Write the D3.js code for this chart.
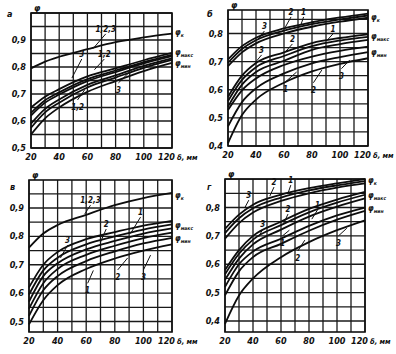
<!DOCTYPE html>
<html>
<head>
<meta charset="utf-8">
<script src="https://cdn.jsdelivr.net/npm/d3@7"></script>
<style>
  body { margin: 0; background: #fff; }
  text { font-family: "DejaVu Sans Condensed", "Liberation Sans Narrow", sans-serif; font-style: italic; font-weight: bold; fill: #111; }
</style>
</head>
<body>
<div id="chart"></div>
<script>
// thickness δ, mm
const thickness = [20, 30, 40, 60, 80, 100, 120];
const xTicks = [20, 40, 60, 80, 100, 120];

// panel а
const aTicks = [0.5, 0.6, 0.7, 0.8, 0.9];
const aPhiK = [[0.795, 0.82, 0.838, 0.866, 0.892, 0.91, 0.924]];
const aMax = [
    [0.650, 0.690, 0.718, 0.765, 0.795, 0.825, 0.852],
    [0.630, 0.677, 0.706, 0.755, 0.787, 0.818, 0.845],
    [0.620, 0.668, 0.698, 0.748, 0.781, 0.813, 0.840]
];
const aMin = [
    [0.590, 0.645, 0.680, 0.734, 0.769, 0.804, 0.832],
    [0.575, 0.632, 0.668, 0.724, 0.761, 0.797, 0.826],
    [0.550, 0.610, 0.650, 0.708, 0.748, 0.785, 0.815]
];

// panel б
const bTicks = [0.4, 0.5, 0.6, 0.7, 0.8];
const bPhiK = [
    [0.708, 0.755, 0.785, 0.818, 0.840, 0.857, 0.871],
    [0.696, 0.745, 0.776, 0.810, 0.833, 0.850, 0.864],
    [0.684, 0.733, 0.765, 0.800, 0.824, 0.842, 0.856]
];
const bMax = [
    [0.575, 0.650, 0.695, 0.733, 0.766, 0.784, 0.797],
    [0.560, 0.635, 0.680, 0.720, 0.755, 0.775, 0.788],
    [0.540, 0.618, 0.663, 0.703, 0.742, 0.762, 0.777]
];
const bMin = [
    [0.528, 0.598, 0.640, 0.688, 0.718, 0.738, 0.753],
    [0.470, 0.556, 0.605, 0.658, 0.694, 0.716, 0.734],
    [0.410, 0.510, 0.565, 0.625, 0.665, 0.692, 0.712]
];

// panel в
const vTicks = [0.5, 0.6, 0.7, 0.8, 0.9];
const vPhiK = [[0.760, 0.810, 0.840, 0.876, 0.910, 0.935, 0.953]];
const vMax = [
    [0.620, 0.700, 0.745, 0.790, 0.815, 0.838, 0.855],
    [0.595, 0.680, 0.725, 0.772, 0.800, 0.824, 0.842],
    [0.570, 0.660, 0.705, 0.754, 0.784, 0.810, 0.828]
];
const vMin = [
    [0.545, 0.635, 0.685, 0.735, 0.767, 0.794, 0.813],
    [0.520, 0.610, 0.660, 0.713, 0.747, 0.775, 0.795],
    [0.490, 0.575, 0.628, 0.685, 0.722, 0.750, 0.772]
];

// panel г
const gTicks = [0.4, 0.5, 0.6, 0.7, 0.8];
const gPhiK = [
    [0.725, 0.775, 0.810, 0.845, 0.868, 0.885, 0.900],
    [0.710, 0.762, 0.797, 0.835, 0.860, 0.878, 0.893],
    [0.690, 0.745, 0.782, 0.823, 0.850, 0.870, 0.885]
];
const gMax = [
    [0.580, 0.650, 0.700, 0.750, 0.795, 0.828, 0.855],
    [0.565, 0.637, 0.687, 0.738, 0.783, 0.817, 0.845],
    [0.545, 0.620, 0.670, 0.722, 0.768, 0.803, 0.832]
];
const gMin = [
    [0.520, 0.600, 0.645, 0.690, 0.735, 0.772, 0.800],
    [0.490, 0.575, 0.625, 0.672, 0.718, 0.757, 0.788],
    [0.390, 0.490, 0.550, 0.625, 0.678, 0.720, 0.755]
];

// curve numbers: text at (x, v), leader to (lx, lv), data units
const aNotes = [
    ["1,2,3", 73, 0.93, 64, 0.868], ["3", 56, 0.837, 49, 0.759], ["1,2", 72, 0.837, 65, 0.79],
    ["1,2", 53, 0.652, 58, 0.715], ["3", 82, 0.715, 89, 0.777]
];
const bNotes = [
    ["3", 46, 0.816, 41, 0.777], ["2", 65, 0.866, 61, 0.823], ["1", 74, 0.866, 72, 0.83],
    ["3", 44, 0.731, 40, 0.70], ["2", 66, 0.77, 61, 0.735], ["1", 95, 0.806, 91, 0.777],
    ["1", 61, 0.603, 69, 0.663], ["2", 81, 0.60, 87, 0.67], ["3", 101, 0.65, 107, 0.706]
];
const vNotes = [
    ["1,2,3", 63, 0.917, 59, 0.879], ["3", 47, 0.776, 42, 0.724], ["2", 74, 0.833, 70, 0.78],
    ["1", 98, 0.875, 91, 0.81], ["1", 61, 0.61, 65, 0.68], ["2", 82, 0.657, 89, 0.724],
    ["3", 100, 0.657, 105, 0.734]
];
const gNotes = [
    ["3", 37, 0.833, 34, 0.798], ["2", 55, 0.879, 52, 0.84], ["1", 67, 0.886, 65, 0.85],
    ["3", 47, 0.731, 44, 0.696], ["2", 65, 0.784, 62, 0.745], ["1", 86, 0.798, 82, 0.759],
    ["1", 61, 0.675, 66, 0.72], ["2", 72, 0.622, 77, 0.685], ["3", 101, 0.675, 107, 0.727]
];

// end labels φк, φмакс, φмин
const aEnds = [["к", 0.93], ["макс", 0.855], ["мин", 0.815]];
const bEnds = [["к", 0.859], ["макс", 0.791], ["мин", 0.735]];
const vEnds = [["к", 0.945], ["макс", 0.84], ["мин", 0.794]];
const gEnds = [["к", 0.896], ["макс", 0.844], ["мин", 0.798]];

const width = 396, height = 354;

const svg = d3.select("#chart")
    .append("svg")
    .attr("width", width)
    .attr("height", height);

const panels = [
    { letter: "а", x0: 31, x1: 172, v0: 0.5, p0: 148, v1: 0.9, p1: 40, top: 13, bottom: 148, lx: 7, ly: 17,
      ticks: aTicks, curves: [...aPhiK, ...aMax, ...aMin], notes: aNotes, ends: aEnds },
    { letter: "б", x0: 228, x1: 368, v0: 0.4, p0: 146, v1: 0.8, p1: 33.5, top: 10, bottom: 146, lx: 207, ly: 17,
      ticks: bTicks, curves: [...bPhiK, ...bMax, ...bMin], notes: bNotes, ends: bEnds },
    { letter: "в", x0: 29, x1: 172, v0: 0.5, p0: 321.5, v1: 0.9, p1: 208, top: 180, bottom: 332, lx: 10, ly: 190,
      ticks: vTicks, curves: [...vPhiK, ...vMax, ...vMin], notes: vNotes, ends: vEnds },
    { letter: "г", x0: 225, x1: 365, v0: 0.4, p0: 321, v1: 0.8, p1: 207.5, top: 179, bottom: 332, lx: 207, ly: 190,
      ticks: gTicks, curves: [...gPhiK, ...gMax, ...gMin], notes: gNotes, ends: gEnds }
];

const fmt = v => d3.format(".1f")(v).replace(".", ",");

panels.forEach(p => {
    const x = d3.scaleLinear().domain([20, 120]).range([p.x0, p.x1]);
    const y = d3.scaleLinear().domain([p.v0, p.v1]).range([p.p0, p.p1]);
    const g = svg.append("g");

    // grid: every 10 mm and every 0.05
    const vLo = y.invert(p.bottom), vHi = y.invert(p.top);
    const hGrid = d3.range(Math.ceil(vLo * 20 - 1e-6), Math.floor(vHi * 20 + 1e-6) + 1).map(k => k / 20);
    g.selectAll(".hg")
        .data(hGrid)
        .join("line")
        .attr("x1", p.x0).attr("x2", p.x1)
        .attr("y1", d => y(d)).attr("y2", d => y(d))
        .attr("stroke", "#1a1a1a").attr("stroke-width", 1.3);
    g.selectAll(".vg")
        .data(d3.range(20, 121, 10))
        .join("line")
        .attr("x1", d => x(d)).attr("x2", d => x(d))
        .attr("y1", p.top).attr("y2", p.bottom)
        .attr("stroke", "#1a1a1a").attr("stroke-width", 1.3);
    g.append("rect")
        .attr("x", p.x0).attr("y", p.top)
        .attr("width", p.x1 - p.x0).attr("height", p.bottom - p.top)
        .attr("fill", "none").attr("stroke", "#111").attr("stroke-width", 1.6);

    // curves
    const line = d3.line()
        .x((d, i) => x(thickness[i]))
        .y(d => y(d))
        .curve(d3.curveMonotoneX);
    g.selectAll(".curve")
        .data(p.curves)
        .join("path")
        .attr("d", line)
        .attr("fill", "none")
        .attr("stroke", "#0d0d0d")
        .attr("stroke-width", 1.8);

    // tick labels
    g.selectAll(".yt")
        .data(p.ticks)
        .join("text")
        .attr("x", p.x0 - 5).attr("y", d => y(d) + 3)
        .attr("text-anchor", "end")
        .style("font-size", "9px")
        .text(fmt);
    g.selectAll(".xt")
        .data(xTicks)
        .join("text")
        .attr("x", d => d === 120 ? x(d) + 3 : x(d)).attr("y", p.bottom + 12)
        .attr("text-anchor", d => d === 120 ? "end" : "middle")
        .style("font-size", "9px")
        .text(d => d);
    g.append("text")
        .attr("x", p.x1 + 5).attr("y", p.bottom + 12)
        .style("font-size", "7.5px")
        .text("δ, мм");
    g.append("text")
        .attr("x", p.x0 + 3).attr("y", p.top - 2)
        .style("font-size", "9px")
        .text("φ");
    g.append("text")
        .attr("x", p.lx).attr("y", p.ly)
        .style("font-size", "9px")
        .text(p.letter);

    // curve numbers with leaders
    g.selectAll(".ld")
        .data(p.notes)
        .join("line")
        .attr("x1", d => x(d[1])).attr("y1", d => y(d[2]) + (d[4] > d[2] ? -7 : 2))
        .attr("x2", d => x(d[3])).attr("y2", d => y(d[4]))
        .attr("stroke", "#111").attr("stroke-width", 1);
    g.selectAll(".nt")
        .data(p.notes)
        .join("text")
        .attr("x", d => x(d[1])).attr("y", d => y(d[2]) + (d[4] > d[2] ? 3 : 0))
        .attr("text-anchor", "middle")
        .style("font-size", "8px")
        .text(d => d[0]);

    // end labels
    const ends = g.selectAll(".end")
        .data(p.ends)
        .join("text")
        .attr("x", p.x1 + 3).attr("y", d => y(d[1]) + 3)
        .style("font-size", "8px");
    ends.append("tspan").text("φ");
    ends.append("tspan")
        .attr("dy", 2)
        .style("font-size", "5px")
        .text(d => d[0]);
});
</script>
</body>
</html>
